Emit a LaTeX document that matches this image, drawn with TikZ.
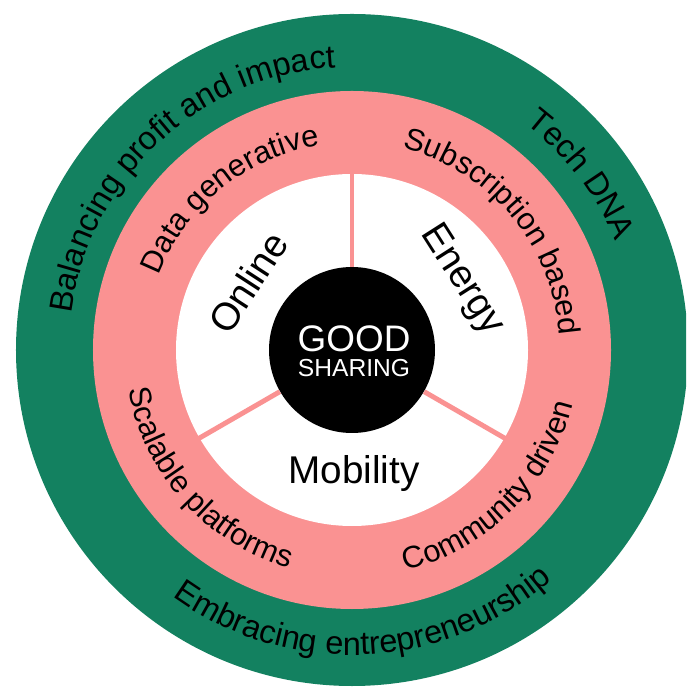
\documentclass[tikz,border=0pt]{standalone}
\usepackage{fontspec}
\setmainfont{Liberation Sans}
\usetikzlibrary{decorations.text}

\definecolor{ringgreen}{RGB}{19,129,96}
\definecolor{ringpink}{RGB}{250,146,146}

\newcommand{\ringfont}{\fontsize{18.5}{20}\selectfont}
\newcommand{\pinkfont}{\fontsize{17.5}{19}\selectfont}
\newcommand{\sectorfont}{\fontsize{22}{24}\selectfont}

\tikzset{
  ringtext/.style={decorate, decoration={text along path, text align=center, text={#1}}},
  sector/.style={font=\sectorfont, inner sep=0pt},
  logo/.style={text=white, inner sep=0pt},
  spoke/.style={ringpink, line width=2.8pt},
}

\begin{document}
\begin{tikzpicture}
		\useasboundingbox (-7.04,-6.78) rectangle (6.68,7.00);
		\begin{scope}
			\clip (-7.04,-6.78) rectangle (6.68,7.00);
			\fill[white] (-7.04,-6.78) rectangle (6.68,7.00);

			% rings
			\fill[ringgreen] (0,0) circle (6.72);
			\fill[ringpink] (0,0) circle (5.18);
			\fill[white] (0,0) circle (3.52);

			\node[circle, fill=black, minimum size=3.32cm, inner sep=0pt] (hub) at (0,0) {};
			\foreach \a [count=\i] in {90,210,330} {
				\coordinate (rim\i) at (\a:3.6);
				\draw[spoke] (hub) -- (rim\i);
			}

			% outer ring
			\path[ringtext={|\ringfont|Balancing profit and impact}] (193:5.66) arc[start angle=193, end angle=73, radius=5.66];
			\path[ringtext={|\ringfont|Tech DNA}] (67.5:5.70) arc[start angle=67.5, end angle=7.5, radius=5.70];
			\path[ringtext={|\ringfont|Embracing entrepreneurship}] (212.5:6.10) arc[start angle=212.5, end angle=332.5, radius=6.10];

			% pink ring
			\path[ringtext={|\pinkfont|Data generative}] (189:4.14) arc[start angle=189, end angle=69, radius=4.14];
			\path[ringtext={|\pinkfont|Subscription based}] (100:4.16) arc[start angle=100, end angle=-20, radius=4.16];
			\path[ringtext={|\pinkfont|Scalable platforms}] (162:4.54) arc[start angle=162, end angle=282, radius=4.54];
			\path[ringtext={|\pinkfont|Community driven}] (255:4.54) arc[start angle=255, end angle=375, radius=4.54];

			% sectors
			\node[sector, rotate=57] (online) at (147:2.48) {Online};
			\node[sector, rotate=-57.5] (energy) at (32.5:2.60) {Energy};
			\node[sector, anchor=base] (mobility) at (0.04,-2.66) {Mobility};

			% centre
			\node[logo, font=\fontsize{21}{21}\selectfont, anchor=base] (good) at (0.04,-0.04) {GOOD};
			\node[logo, font=\fontsize{14}{14}\selectfont, anchor=base] (sharing) at (0.04,-0.54) {SHARING};
		\end{scope}
\end{tikzpicture}
\end{document}
